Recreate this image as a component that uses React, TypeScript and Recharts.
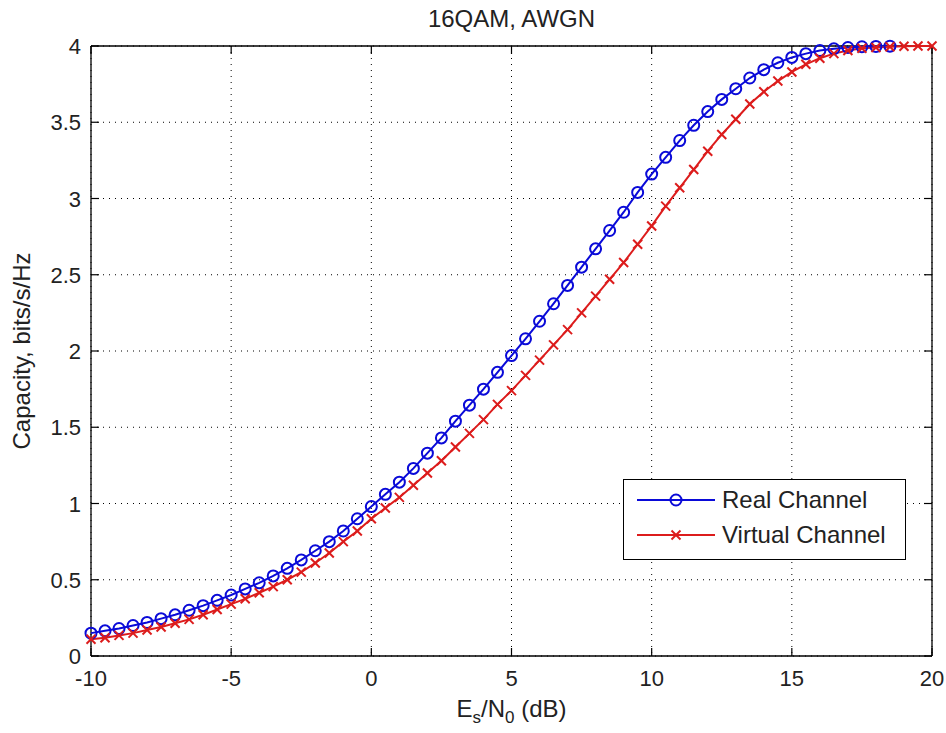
import React from 'react';
import { LineChart, Line, XAxis, YAxis, CartesianGrid, ReferenceLine } from 'recharts';

const SNR_DB = [
  -10, -9.5, -9, -8.5, -8, -7.5, -7, -6.5, -6, -5.5, -5, -4.5, -4, -3.5, -3, -2.5, -2, -1.5, -1, -0.5,
  0, 0.5, 1, 1.5, 2, 2.5, 3, 3.5, 4, 4.5, 5, 5.5, 6, 6.5, 7, 7.5, 8, 8.5, 9, 9.5,
  10, 10.5, 11, 11.5, 12, 12.5, 13, 13.5, 14, 14.5, 15, 15.5, 16, 16.5, 17, 17.5, 18, 18.5, 19, 19.5, 20,
];

const REAL_CHANNEL = [
  0.15, 0.165, 0.18, 0.2, 0.22, 0.245, 0.27, 0.3, 0.33, 0.365, 0.4, 0.44, 0.48, 0.525, 0.575, 0.63, 0.69, 0.75, 0.82, 0.9,
  0.98, 1.06, 1.14, 1.23, 1.33, 1.43, 1.54, 1.645, 1.75, 1.86, 1.97, 2.08, 2.195, 2.31, 2.43, 2.55, 2.67, 2.79, 2.91, 3.04,
  3.16, 3.27, 3.38, 3.48, 3.57, 3.65, 3.72, 3.79, 3.845, 3.89, 3.925, 3.95, 3.97, 3.982, 3.99, 3.995, 3.997, 3.999,
];

const VIRTUAL_CHANNEL = [
  0.11, 0.12, 0.135, 0.15, 0.17, 0.19, 0.215, 0.24, 0.27, 0.305, 0.34, 0.375, 0.415, 0.455, 0.5, 0.55, 0.61, 0.675, 0.75, 0.82,
  0.9, 0.97, 1.04, 1.12, 1.2, 1.28, 1.37, 1.46, 1.55, 1.65, 1.74, 1.84, 1.94, 2.04, 2.14, 2.25, 2.36, 2.47, 2.58, 2.7,
  2.82, 2.95, 3.07, 3.19, 3.31, 3.42, 3.52, 3.62, 3.7, 3.77, 3.83, 3.88, 3.92, 3.95, 3.97, 3.985, 3.99, 3.995, 3.998, 4.0, 4.0,
];

const X_TICKS = [-10, -5, 0, 5, 10, 15, 20];
const Y_TICKS = [0, 0.5, 1, 1.5, 2, 2.5, 3, 3.5, 4];
const X_DOMAIN = [-10, 20];
const Y_DOMAIN = [0, 4];
const TITLE = '16QAM, AWGN';
const SERIES_NAMES = ['Real Channel', 'Virtual Channel'];

const data = SNR_DB.map((x, i) => ({
  x,
  real: i < REAL_CHANNEL.length ? REAL_CHANNEL[i] : undefined,
  virtual: VIRTUAL_CHANNEL[i],
}));

const W = 946;
const H = 733;
const PLOT_LEFT = 91;
const PLOT_RIGHT = 932;
const PLOT_TOP = 46;
const PLOT_BOTTOM = 656;
const TICK_LEN = 8;
const FONT = '"Liberation Sans", Arial, Helvetica, sans-serif';
const TEXT = '#222';
const BLUE = '#0a0ad8';
const RED = '#dc1c1c';

const BottomTick = (props: any) => {
  const { x, payload } = props;
  return (
    <text x={x} y={PLOT_BOTTOM + 30} textAnchor="middle" fontSize={22} fontFamily={FONT} fill={TEXT}>
      {payload.value}
    </text>
  );
};

const LeftTick = (props: any) => {
  const { y, payload } = props;
  return (
    <text x={PLOT_LEFT - 10} y={y + 8} textAnchor="end" fontSize={22} fontFamily={FONT} fill={TEXT}>
      {payload.value}
    </text>
  );
};

// inward tick marks at both ends of a vertical reference line
const VTickShape = (props: any) => {
  const { x1, y1, y2 } = props;
  const top = Math.min(y1, y2);
  const bot = Math.max(y1, y2);
  return (
    <g>
      <line x1={x1} x2={x1} y1={top} y2={top + TICK_LEN} stroke="#000" strokeWidth={1.2} />
      <line x1={x1} x2={x1} y1={bot} y2={bot - TICK_LEN} stroke="#000" strokeWidth={1.2} />
    </g>
  );
};

// inward tick marks at both ends of a horizontal reference line
const HTickShape = (props: any) => {
  const { x1, x2, y1 } = props;
  const l = Math.min(x1, x2);
  const r = Math.max(x1, x2);
  return (
    <g>
      <line x1={l} x2={l + TICK_LEN} y1={y1} y2={y1} stroke="#000" strokeWidth={1.2} />
      <line x1={r} x2={r - TICK_LEN} y1={y1} y2={y1} stroke="#000" strokeWidth={1.2} />
    </g>
  );
};

const CrossDot = (props: any) => {
  const { cx, cy } = props;
  if (cx == null || cy == null) return null;
  const s = 4.5;
  return (
    <g>
      <line x1={cx - s} y1={cy - s} x2={cx + s} y2={cy + s} stroke={RED} strokeWidth={2} />
      <line x1={cx - s} y1={cy + s} x2={cx + s} y2={cy - s} stroke={RED} strokeWidth={2} />
    </g>
  );
};

const CircleDot = (props: any) => {
  const { cx, cy } = props;
  if (cx == null || cy == null) return null;
  return <circle cx={cx} cy={cy} r={5.5} fill="none" stroke={BLUE} strokeWidth={2} />;
};

const LegendBox = () => (
  <svg width={283} height={81} style={{ position: 'absolute', left: 623, top: 479, display: 'block' }}>
    <rect x={0.5} y={0.5} width={282} height={80} fill="#fff" stroke="#000" strokeWidth={1} />
    <line x1={14} x2={92} y1={21} y2={21} stroke={BLUE} strokeWidth={2} />
    <circle cx={53} cy={21} r={5.5} fill="none" stroke={BLUE} strokeWidth={2} />
    <text x={99} y={29} fontSize={24} fontFamily={FONT} fill={TEXT}>{SERIES_NAMES[0]}</text>
    <line x1={14} x2={92} y1={56} y2={56} stroke={RED} strokeWidth={2} />
    <line x1={48.5} y1={51.5} x2={57.5} y2={60.5} stroke={RED} strokeWidth={2} />
    <line x1={48.5} y1={60.5} x2={57.5} y2={51.5} stroke={RED} strokeWidth={2} />
    <text x={99} y={64} fontSize={24} fontFamily={FONT} fill={TEXT}>{SERIES_NAMES[1]}</text>
  </svg>
);

export default function App() {
  return (
    <div style={{ position: 'absolute', left: 0, top: 0, width: W, height: H, background: '#fff' }}>
      <LineChart
        width={W}
        height={H}
        data={data}
        margin={{ top: PLOT_TOP, right: W - PLOT_RIGHT, bottom: 0, left: 0 }}
      >
        <CartesianGrid stroke="#000" strokeDasharray="1 5" strokeWidth={1} />
        <XAxis
          dataKey="x"
          type="number"
          domain={X_DOMAIN}
          ticks={X_TICKS}
          height={H - PLOT_BOTTOM}
          axisLine={false}
          tickLine={false}
          tick={<BottomTick />}
          interval={0}
          label={{
            content: () => (
              <text x={(PLOT_LEFT + PLOT_RIGHT) / 2} y={717} textAnchor="middle" fontSize={24} fontFamily={FONT} fill={TEXT}>
                E<tspan fontSize={17} dy={6}>s</tspan>
                <tspan dy={-6}>/N</tspan>
                <tspan fontSize={17} dy={6}>0</tspan>
                <tspan dy={-6}> (dB)</tspan>
              </text>
            ),
          }}
        />
        <YAxis
          type="number"
          domain={Y_DOMAIN}
          ticks={Y_TICKS}
          width={PLOT_LEFT}
          axisLine={false}
          tickLine={false}
          tick={<LeftTick />}
          interval={0}
          label={{
            content: () => (
              <g>
                <text
                  x={30}
                  y={(PLOT_TOP + PLOT_BOTTOM) / 2}
                  textAnchor="middle"
                  fontSize={24}
                  fontFamily={FONT}
                  fill={TEXT}
                  transform={`rotate(-90, 30, ${(PLOT_TOP + PLOT_BOTTOM) / 2})`}
                >
                  Capacity, bits/s/Hz
                </text>
                <text x={(PLOT_LEFT + PLOT_RIGHT) / 2} y={27} textAnchor="middle" fontSize={24} fontFamily={FONT} fill={TEXT}>
                  {TITLE}
                </text>
              </g>
            ),
          }}
        />
        {X_TICKS.map((t) => (
          <ReferenceLine key={`vx${t}`} x={t} stroke="#000" shape={<VTickShape />} />
        ))}
        {Y_TICKS.map((t) => (
          <ReferenceLine key={`hy${t}`} y={t} stroke="#000" shape={<HTickShape />} />
        ))}
        <ReferenceLine x={X_DOMAIN[0]} stroke="#000" strokeWidth={1.3} />
        <ReferenceLine x={X_DOMAIN[1]} stroke="#000" strokeWidth={1.3} />
        <ReferenceLine y={Y_DOMAIN[0]} stroke="#000" strokeWidth={1.3} />
        <ReferenceLine y={Y_DOMAIN[1]} stroke="#000" strokeWidth={1.3} />
        <Line
          dataKey="real"
          name={SERIES_NAMES[0]}
          type="linear"
          stroke={BLUE}
          strokeWidth={2}
          dot={<CircleDot />}
          activeDot={false}
          isAnimationActive={false}
          connectNulls={false}
        />
        <Line
          dataKey="virtual"
          name={SERIES_NAMES[1]}
          type="linear"
          stroke={RED}
          strokeWidth={2}
          dot={<CrossDot />}
          activeDot={false}
          isAnimationActive={false}
        />
      </LineChart>
      <LegendBox />
    </div>
  );
}
